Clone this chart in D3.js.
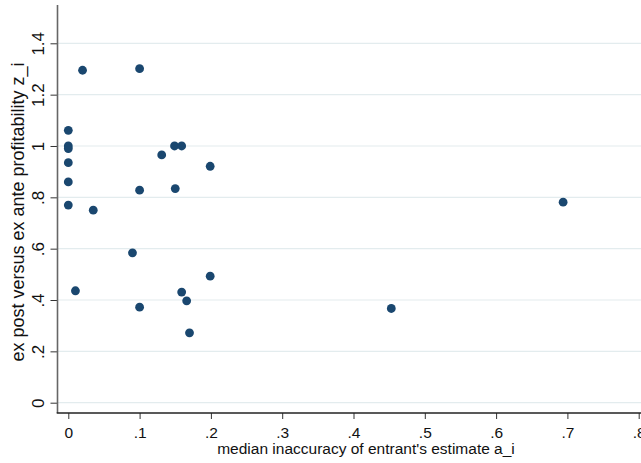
<html>
<head>
    <script src="https://d3js.org/d3.v7.min.js"></script>
    <style>
        body { margin: 0; background: #fff; }
        text { font-family: Arial, "Liberation Sans", sans-serif; }
    </style>
</head>
<body>
    <svg id="chartArea" width="641" height="463"></svg>
    <script>
        // median inaccuracy of entrant's estimate (a_i)
        const inaccuracy = [0.02, 0.10, 0, 0, 0, 0, 0, 0, 0.035, 0.10, 0.131, 0.149, 0.159, 0.150, 0.199,
                            0.090, 0.010, 0.10, 0.159, 0.166, 0.170, 0.199, 0.694, 0.453];
        // ex post versus ex ante profitability (z_i)
        const profitability = [1.295, 1.301, 1.061, 1.0, 0.99, 0.935, 0.860, 0.770, 0.750, 0.828, 0.965, 1.0, 1.0, 0.834, 0.921,
                               0.584, 0.436, 0.372, 0.431, 0.397, 0.272, 0.493, 0.781, 0.367];
        const xTicks = [0, 0.1, 0.2, 0.3, 0.4, 0.5, 0.6, 0.7, 0.8];
        const yTicks = [0, 0.2, 0.4, 0.6, 0.8, 1, 1.2, 1.4];

        const points = inaccuracy.map((a, i) => ({ a: a, z: profitability[i] }));

        const svg = d3.select("#chartArea");
        const fmt = d => String(d).replace(/^0\./, ".");

        const xScale = d3.scaleLinear().domain([0, 0.8]).range([68.3, 638.7]);
        const yScale = d3.scaleLinear().domain([0, 1.4]).range([402.7, 43.3]);

        const axisX = 57.5, axisY = 413;

        // gridlines
        svg.append("g").selectAll("line.grid").data(yTicks)
            .join("line")
            .attr("class", "grid")
            .attr("x1", axisX).attr("x2", 641)
            .attr("y1", d => yScale(d)).attr("y2", d => yScale(d))
            .attr("stroke", "#e3ecee")
            .attr("stroke-width", 1.2);

        // y axis
        const yAxis = svg.append("g")
            .attr("transform", `translate(${axisX},0)`)
            .call(d3.axisLeft(yScale).tickValues(yTicks).tickFormat(fmt).tickSize(7).tickSizeOuter(0));
        yAxis.select(".domain").remove();
        yAxis.selectAll(".tick line").attr("stroke", "#333");
        yAxis.selectAll(".tick text")
            .attr("x", 0).attr("y", 0).attr("dy", null)
            .attr("transform", "translate(-14,0) rotate(-90)")
            .attr("text-anchor", "middle")
            .attr("font-size", 17)
            .attr("font-family", "Arial, 'Liberation Sans', sans-serif")
            .attr("fill", "#111");
        svg.append("line")
            .attr("x1", axisX).attr("x2", axisX)
            .attr("y1", 5).attr("y2", axisY)
            .attr("stroke", "#666").attr("stroke-width", 1.6);

        // x axis
        const xAxis = svg.append("g")
            .attr("transform", `translate(0,${axisY})`)
            .call(d3.axisBottom(xScale).tickValues(xTicks).tickFormat(fmt).tickSize(6).tickSizeOuter(0));
        xAxis.select(".domain").remove();
        xAxis.selectAll(".tick line").attr("stroke", "#333");
        xAxis.selectAll(".tick text")
            .attr("y", 25).attr("dy", null)
            .attr("font-size", 15.5)
            .attr("font-family", "Arial, 'Liberation Sans', sans-serif")
            .attr("fill", "#111");
        svg.append("line")
            .attr("x1", axisX - 0.8).attr("x2", 641)
            .attr("y1", axisY).attr("y2", axisY)
            .attr("stroke", "#222").attr("stroke-width", 1.4);

        // axis titles
        svg.append("text")
            .attr("x", 366).attr("y", 454)
            .attr("text-anchor", "middle")
            .attr("font-size", 15.5)
            .attr("fill", "#111")
            .text("median inaccuracy of entrant's estimate a_i");
        svg.append("text")
            .attr("transform", "translate(24,212) rotate(-90)")
            .attr("text-anchor", "middle")
            .attr("font-size", 18)
            .attr("fill", "#111")
            .text("ex post versus ex ante profitability z_i");

        // points
        svg.append("g").selectAll("circle.node").data(points)
            .join("circle")
            .attr("class", "node")
            .attr("cx", d => xScale(d.a))
            .attr("cy", d => yScale(d.z))
            .attr("r", 4.4)
            .attr("fill", "#1a476f");
    </script>
</body>
</html>
